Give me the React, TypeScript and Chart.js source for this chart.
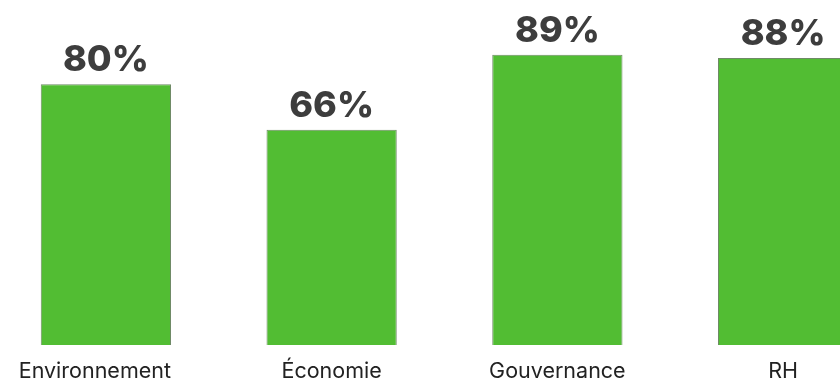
import React, { useEffect, useRef } from "react";
import { Chart, registerables } from "chart.js";

Chart.register(...registerables);

const categories = ["Environnement", "Économie", "Gouvernance", "RH"];
const values = [80, 66, 89, 88];
const valueLabels = ["80%", "66%", "89%", "88%"];

const W = 903;
const H = 381;

const labelPlugin = {
  id: "valueLabels",
  afterDatasetsDraw(chart: any) {
    const ctx = chart.ctx;
    const meta = chart.getDatasetMeta(0);
    ctx.save();
    ctx.font = "800 36px Inter, 'DejaVu Sans', sans-serif";
    ctx.fillStyle = "#3d3d3d";
    ctx.textAlign = "center";
    ctx.textBaseline = "alphabetic";
    meta.data.forEach((bar: any, i: number) => {
      ctx.fillText(valueLabels[i], bar.x, bar.y - 13);
    });
    ctx.restore();

    // category labels; the first one is aligned to its bar's right edge
    ctx.save();
    ctx.font = "21.5px Inter, sans-serif";
    ctx.fillStyle = "#222";
    ctx.textBaseline = "alphabetic";
    const y = chart.chartArea.bottom + 33;
    meta.data.forEach((bar: any, i: number) => {
      if (i === 0) {
        ctx.textAlign = "right";
        ctx.fillText(categories[i], bar.x + bar.width / 2, y);
      } else {
        ctx.textAlign = "center";
        ctx.fillText(categories[i], bar.x, y);
      }
    });
    ctx.restore();
  },
};

export default function App() {
  const ref = useRef<HTMLCanvasElement>(null);
  useEffect(() => {
    if (!ref.current) return;
    const chart = new Chart(ref.current, {
      type: "bar",
      data: {
        labels: categories,
        datasets: [
          {
            data: values,
            backgroundColor: "#52bd33",
            borderColor: "#6f8a66",
            borderWidth: { top: 1, left: 1, right: 1, bottom: 0 },
            borderSkipped: "bottom",
            categoryPercentage: 1,
            barPercentage: 0.577,
          },
        ],
      },
      options: {
        responsive: false,
        animation: false,
        layout: { padding: { top: 19, left: 0, right: 0, bottom: 36 } },
        plugins: { legend: { display: false }, tooltip: { enabled: false } },
        scales: {
          x: { display: false },
          y: {
            display: false,
            min: 0,
            max: 100,
          },
        },
      },
      plugins: [labelPlugin],
    });
    return () => chart.destroy();
  }, []);
  return (
    <div style={{ position: "fixed", left: -7, top: 0, width: W, height: H, background: "#fff" }}>
      <canvas ref={ref} width={W} height={H} style={{ width: W, height: H, display: "block" }} />
    </div>
  );
}
